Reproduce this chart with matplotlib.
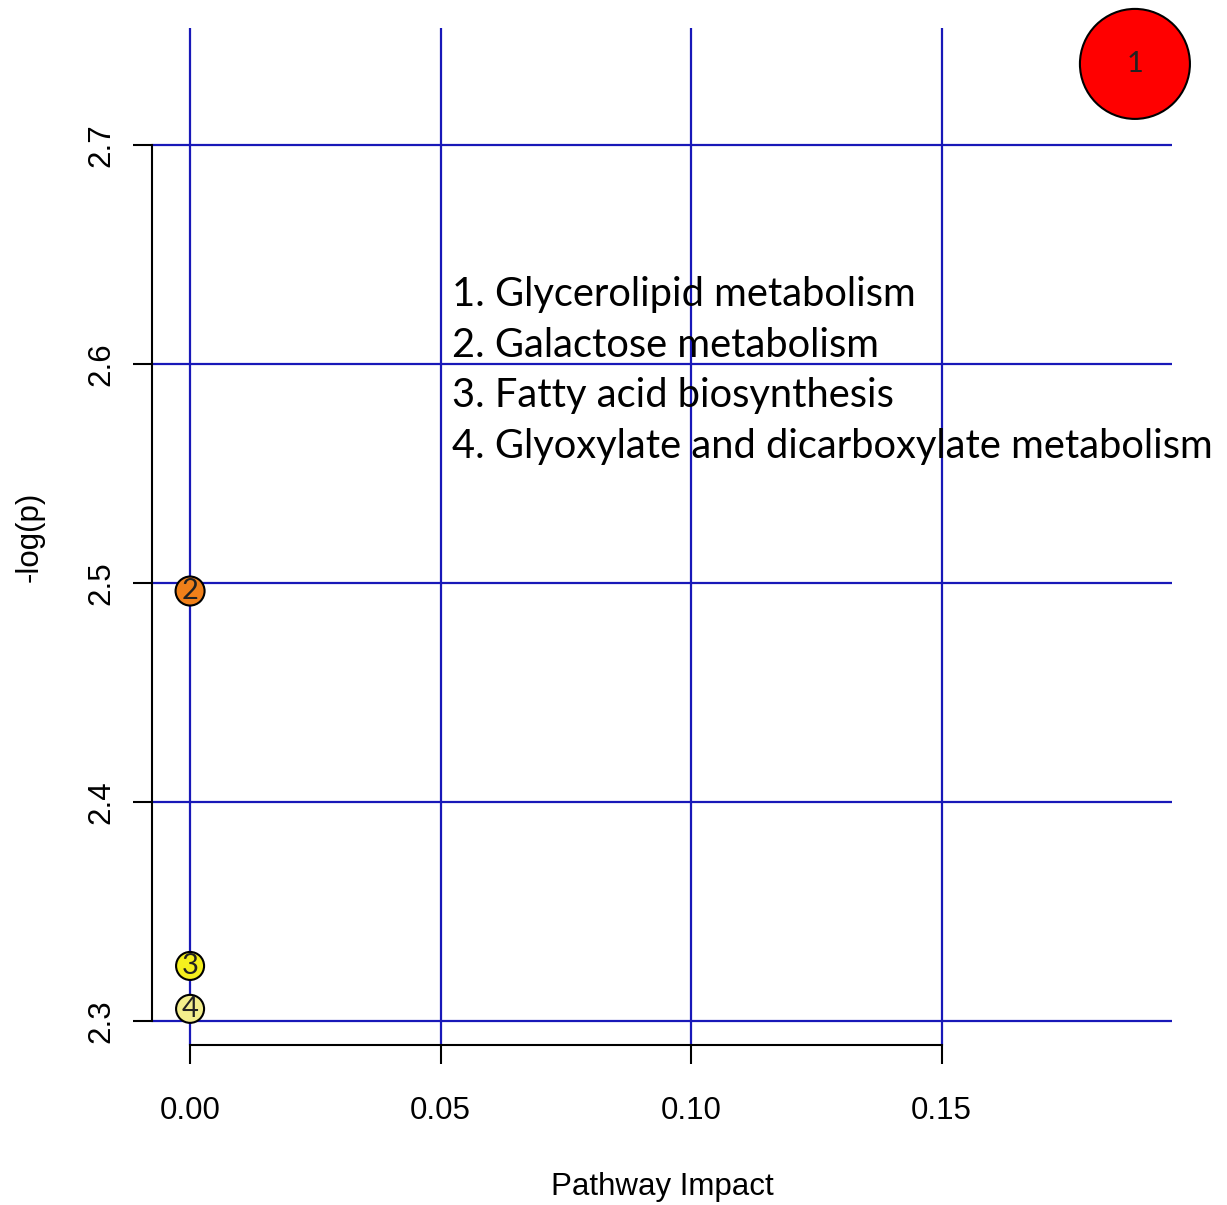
import numpy as np
import matplotlib.pyplot as plt

# pathway impact vs -log(p)
pathways = ["Glycerolipid metabolism", "Galactose metabolism",
            "Fatty acid biosynthesis", "Glyoxylate and dicarboxylate metabolism"]
impact = [0.1886, 0.0, 0.0, 0.0]
neg_log_p = [2.737, 2.4963, 2.3251, 2.3055]
circle_diam = [110, 29, 28, 28]   # marker diameter in px
fill_colors = ["#ff0000", "#f0801a", "#f5f01e", "#f3ee8c"]

x_ticks = [0.00, 0.05, 0.10, 0.15]
y_ticks = [2.3, 2.4, 2.5, 2.6, 2.7]

dpi = 100
fig = plt.figure(figsize=(12.27, 12.05), dpi=dpi)
ax = fig.add_axes([152 / 1227, 160 / 1205, 1020 / 1227, 1017 / 1205])
ax.set_xlim(-0.0076, 0.196)
ax.set_ylim(2.289, 2.7534)

# blue grid across the whole plot region
for xv in x_ticks:
    ax.axvline(xv, color="#1818b8", lw=1.6, zorder=1)
for yv in y_ticks:
    ax.axhline(yv, color="#1818b8", lw=1.6, zorder=1)

# circles: size in points^2 from pixel diameter
sizes = [(d * 72 / dpi) ** 2 for d in circle_diam]
ax.scatter(impact, neg_log_p, s=sizes, c=fill_colors, edgecolors="black",
           linewidths=1.5, zorder=3, clip_on=False)
for i, (xv, yv) in enumerate(zip(impact, neg_log_p)):
    ax.text(xv, yv, str(i + 1), ha="center", va="center", fontsize=21,
            family="Lato", color="#222222", zorder=4, clip_on=False)

legend_txt = "\n".join(f"{i + 1}. {name}" for i, name in enumerate(pathways))
ax.text(0.0523, 2.6402, legend_txt, ha="left", va="top", fontsize=28.7,
        family="Lato", linespacing=1.46, zorder=5)

# R-style axes: spines only over the tick range
for side in ["top", "right"]:
    ax.spines[side].set_visible(False)
ax.spines["left"].set_bounds(y_ticks[0], y_ticks[-1])
ax.spines["bottom"].set_bounds(x_ticks[0], x_ticks[-1])
for side in ["left", "bottom"]:
    ax.spines[side].set_linewidth(1.5)
ax.set_xticks(x_ticks)
ax.set_xticklabels([f"{v:.2f}" for v in x_ticks])
ax.set_yticks(y_ticks)
ax.set_yticklabels([f"{v:.1f}" for v in y_ticks], rotation=90, va="center")
ax.tick_params(length=13.5, width=1.5, labelsize=22.5)
ax.tick_params(axis="x", pad=23)
ax.tick_params(axis="y", pad=12)
for lbl in ax.get_xticklabels() + ax.get_yticklabels():
    lbl.set_family("Liberation Sans")

ax.set_xlabel("Pathway Impact", fontsize=22.5, family="Liberation Sans", labelpad=33)
ax.set_ylabel("-log(p)", fontsize=22.5, family="Liberation Sans", labelpad=30)

fig.savefig("out.png", dpi=dpi)
